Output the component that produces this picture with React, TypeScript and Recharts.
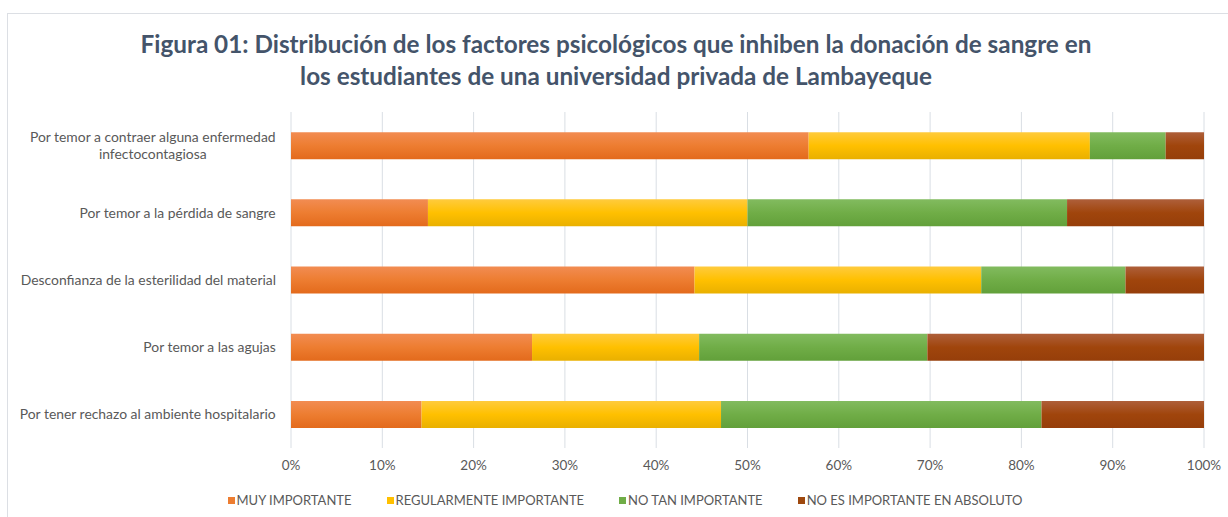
import React from "react";
import { BarChart, Bar, XAxis, YAxis, CartesianGrid, Legend } from "recharts";

const factors = [
  "Por temor a contraer alguna enfermedad infectocontagiosa",
  "Por temor a la pérdida de sangre",
  "Desconfianza de la esterilidad del material",
  "Por temor a las agujas",
  "Por tener rechazo al ambiente hospitalario",
];

const muyImportante = [56.7, 15.0, 44.2, 26.4, 14.3];
const regularmente = [30.8, 35.0, 31.4, 18.3, 32.8];
const noTan = [8.3, 35.0, 15.8, 25.0, 35.1];
const noEs = [4.2, 15.0, 8.6, 30.3, 17.8];

const xTicks = [0, 10, 20, 30, 40, 50, 60, 70, 80, 90, 100];

const seriesNames = [
  "MUY IMPORTANTE",
  "REGULARMENTE IMPORTANTE",
  "NO TAN IMPORTANTE",
  "NO ES IMPORTANTE EN ABSOLUTO",
];

const data = factors.map((f, i) => ({
  factor: f,
  muy: muyImportante[i],
  reg: regularmente[i],
  notan: noTan[i],
  noes: noEs[i],
}));

const FONT = "Lato, 'Open Sans', sans-serif";
const TEXT = "#595959";

// colores tipo Excel con degradado vertical
const palette = [
  { id: "gMuy", top: "#F28C52", mid: "#ED7D31", bot: "#E36A1C", solid: "#ED7D31" },
  { id: "gReg", top: "#FFCB3D", mid: "#FFC000", bot: "#E9B000", solid: "#FFC000" },
  { id: "gNoTan", top: "#82BB5F", mid: "#70AD47", bot: "#62A03A", solid: "#70AD47" },
  { id: "gNoEs", top: "#AE5F3A", mid: "#A0450C", bot: "#963E0A", solid: "#9E480E" },
];

let ctx: CanvasRenderingContext2D | null = null;
function measure(text: string, font: string) {
  if (!ctx) ctx = document.createElement("canvas").getContext("2d");
  if (!ctx) return text.length * 6;
  ctx.font = font;
  return ctx.measureText(text).width;
}

function wrap(label: string, maxChars: number) {
  const words = label.split(" ");
  const lines: string[] = [];
  let cur = "";
  words.forEach((w) => {
    const next = cur ? cur + " " + w : w;
    if (next.length > maxChars && cur) {
      lines.push(cur);
      cur = w;
    } else cur = next;
  });
  if (cur) lines.push(cur);
  return lines;
}

const FactorTick = (props: any) => {
  const { x, y, payload } = props;
  const lines = wrap(payload.value, 44);
  const fontSize = 13.9;
  const lh = 17;
  const widest = Math.max(...lines.map((l) => measure(l, `${fontSize}px ${FONT}`)));
  const cx = x - widest / 2;
  const startY = y - ((lines.length - 1) * lh) / 2;
  return (
    <g>
      {lines.map((l, i) => (
        <text
          key={i}
          x={cx}
          y={startY + i * lh}
          dy="0.35em"
          textAnchor="middle"
          fill={TEXT}
          fontSize={fontSize}
          fontFamily={FONT}
        >
          {l}
        </text>
      ))}
    </g>
  );
};

const LegendContent = () => (
  <div
    style={{
      display: "flex",
      justifyContent: "center",
      alignItems: "center",
      height: 34,
      fontFamily: FONT,
      fontSize: 13,
      color: TEXT,
      paddingLeft: 38,
    }}
  >
    {seriesNames.map((n, i) => (
      <div key={n} style={{ display: "flex", alignItems: "center", marginRight: i < 3 ? 35 : 0 }}>
        <span
          style={{
            display: "inline-block",
            width: 7,
            height: 7,
            background: palette[i].solid,
            marginRight: 2,
          }}
        />
        <span>{n}</span>
      </div>
    ))}
  </div>
);

export default function App() {
  return (
    <div
      style={{
        position: "fixed",
        left: 0,
        top: 0,
        width: 1228,
        height: 517,
        overflow: "hidden",
        background: "#fff",
      }}
    >
      <div
        style={{
          position: "absolute",
          left: 7,
          top: 13,
          width: 1240,
          height: 520,
          borderTop: "1.5px solid #DCDFE4",
          borderLeft: "1.5px solid #DCDFE4",
        }}
      />
      <div
        style={{
          position: "absolute",
          left: 0,
          top: 28,
          width: 1232,
          textAlign: "center",
          fontFamily: FONT,
          fontWeight: "bold",
          fontSize: 24.3,
          lineHeight: "32px",
          color: "#44546A",
        }}
      >
        Figura 01: Distribución de los factores psicológicos que inhiben la donación de sangre en
        <br />
        los estudiantes de una universidad privada de Lambayeque
      </div>
      <div style={{ position: "absolute", left: 0, top: 0 }}>
        <BarChart
          width={1228}
          height={517}
          data={data}
          layout="vertical"
          margin={{ top: 112, right: 24, bottom: 0, left: 8 }}
          barCategoryGap="30%"
        >
          <defs>
            {palette.map((p) => (
              <linearGradient key={p.id} id={p.id} x1="0" y1="0" x2="0" y2="1">
                <stop offset="0%" stopColor={p.top} />
                <stop offset="50%" stopColor={p.mid} />
                <stop offset="100%" stopColor={p.bot} />
              </linearGradient>
            ))}
          </defs>
          <CartesianGrid horizontal={false} stroke="#D9DEE4" />
          <XAxis
            type="number"
            domain={[0, 100]}
            ticks={xTicks}
            allowDataOverflow
            tickFormatter={(v) => `${v}%`}
            axisLine={false}
            tickLine={false}
            tickSize={0}
            tickMargin={12}
            height={35}
            tick={{ fill: TEXT, fontSize: 13.5, fontFamily: FONT }}
          />
          <YAxis
            type="category"
            dataKey="factor"
            width={283}
            axisLine={false}
            tickLine={false}
            tickSize={0}
            tickMargin={15}
            tick={<FactorTick />}
            interval={0}
          />
          <Legend verticalAlign="bottom" content={<LegendContent />} />
          <Bar dataKey="muy" name={seriesNames[0]} stackId="a" fill="url(#gMuy)" isAnimationActive={false} />
          <Bar dataKey="reg" name={seriesNames[1]} stackId="a" fill="url(#gReg)" isAnimationActive={false} />
          <Bar dataKey="notan" name={seriesNames[2]} stackId="a" fill="url(#gNoTan)" isAnimationActive={false} />
          <Bar dataKey="noes" name={seriesNames[3]} stackId="a" fill="url(#gNoEs)" isAnimationActive={false} />
        </BarChart>
      </div>
    </div>
  );
}
